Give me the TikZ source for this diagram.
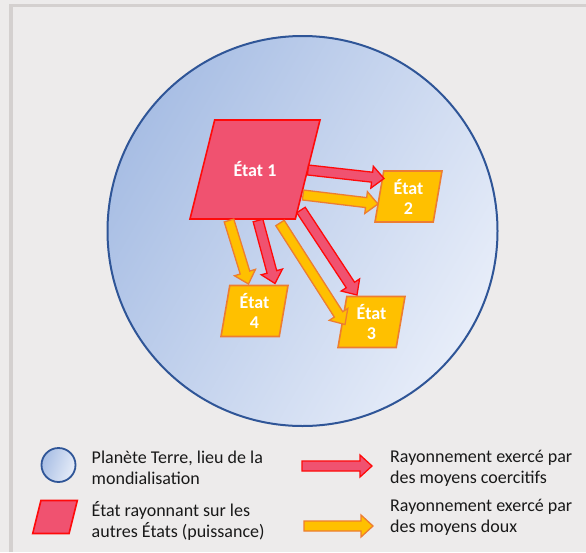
\documentclass[tikz,border=0pt]{standalone}
\usepackage{fontspec}
\setmainfont{Carlito}
\usepackage{tikz}
\usetikzlibrary{calc,shapes.geometric}
\definecolor{pagebg}{RGB}{237, 235, 235}
\definecolor{framegray}{RGB}{212, 208, 207}
\definecolor{earthdark}{RGB}{168, 190, 228}
\definecolor{earthlight}{RGB}{231, 237, 249}
\definecolor{earthline}{RGB}{47, 85, 151}
\definecolor{powerfill}{RGB}{240, 82, 112}
\definecolor{powerline}{RGB}{255, 10, 10}
\definecolor{softfill}{RGB}{255, 192, 0}
\definecolor{softline}{RGB}{237, 125, 49}

% block arrow: #1 style, #2 tail, #3 tip
\newcommand{\rayon}[3]{%
    \coordinate (rt) at (#2);
    \coordinate (rh) at (#3);
    \coordinate (rb) at ($(rh)!12pt!(rt)$);
    \draw[#1] ($(rt)!5pt!90:(rh)$) -- ($(rb)!5pt!90:(rh)$) -- ($(rb)!11pt!90:(rh)$) -- (rh)
        -- ($(rb)!11pt!-90:(rh)$) -- ($(rb)!5pt!-90:(rh)$) -- ($(rt)!5pt!-90:(rh)$) -- cycle;
}

\begin{document}
\begin{tikzpicture}[x=1pt, y=-1pt,
    every node/.style={font=\fontsize{18}{21}\selectfont},
    terre/.style={circle, draw=earthline, line width=2pt, inner sep=0pt,
        left color=earthdark, right color=earthlight, shading angle=60},
    etat/.style={trapezium, trapezium left angle=76, trapezium right angle=104,
        trapezium stretches body, inner sep=0pt, text=white, align=center,
        font=\fontsize{18}{20}\selectfont\bfseries},
    puissance/.style={etat, draw=powerline, fill=powerfill, line width=1.6pt},
    voisin/.style={etat, draw=softline, fill=softfill, line width=1.6pt,
        minimum width=67pt, minimum height=51pt},
    coercitif/.style={draw=powerline, fill=powerfill, line width=1.3pt},
    doux/.style={draw=softline, fill=softfill, line width=1.3pt},
    legende/.style={anchor=west, align=left, inner sep=0pt, text=black!90}]
    \useasboundingbox[fill=pagebg] (0,0) rectangle (586,552);
    \draw[framegray, line width=3.5pt] (11,552) -- (11,5.5) -- (586,5.5);

    % the planet and the states
    \node[terre, minimum size=390pt] (terre) at (302.5,231) {};
    \node[puissance, text height=56pt, text depth=43pt, minimum width=130pt] (etat1) at (255,169.5) {État 1};
    \node[voisin] (etat2) at (408.5,196.5) {État\\2};
    \node[voisin] (etat3) at (371.5,322) {État\\3};
    \node[voisin] (etat4) at (254.5,311) {État\\4};

    % rays from the powerful state
    \rayon{coercitif}{[shift={(53,0.5)}]etat1.center}{[shift={(-24.5,-18)}]etat2.center}
    \rayon{doux}{[shift={(48,25.5)}]etat1.center}{[shift={(-30.5,7.5)}]etat2.center}
    \rayon{coercitif}{[shift={(46,40.5)}]etat1.center}{[shift={(-14.5,-27)}]etat3.center}
    \rayon{doux}{[shift={(25,53.5)}]etat1.center}{[shift={(-26.5,2.5)}]etat3.center}
    \rayon{coercitif}{[shift={(3,51)}]etat1.center}{[shift={(20.5,-27.5)}]etat4.center}
    \rayon{doux}{[shift={(-26,51)}]etat1.center}{[shift={(-6,-27)}]etat4.center}

    % legend
    \node[terre, minimum size=34pt, line width=1.8pt, shading angle=70] (legterre) at (58.5,465) {};
    \node[puissance, text height=33pt, text depth=0pt, minimum width=44.6pt] (legetat) at (55,517) {};
    \node[legende] (txterre) at (91.5,468) {Planète Terre, lieu de la\\mondialisation};
    \node[legende] (txetat) at (91.5,521) {État rayonnant sur les\\autres États (puissance)};
    \node[legende] (txcoerc) at (390,468) {Rayonnement exercé par\\des moyens coercitifs};
    \node[legende] (txdoux) at (390,517) {Rayonnement exercé par\\des moyens doux};
    \coordinate (lc1) at (302,466);
    \coordinate (lc2) at (372,466);
    \coordinate (ld1) at (304,526);
    \coordinate (ld2) at (373,526);
    \rayon{coercitif}{lc1}{lc2}
    \rayon{doux}{ld1}{ld2}
\end{tikzpicture}
\end{document}
